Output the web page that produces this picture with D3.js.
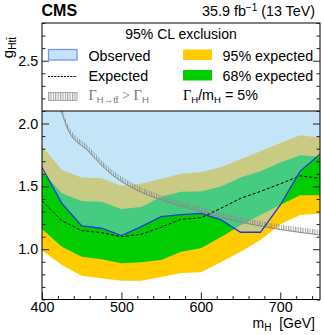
<!DOCTYPE html>
<html><head><meta charset="utf-8">
<script src="https://cdn.jsdelivr.net/npm/d3@7"></script>
<style>
html,body{margin:0;padding:0;background:#fff;}
text{font-family:"Liberation Sans",Arial,sans-serif;}
</style></head>
<body><svg id="c" width="324" height="335"></svg>
<script>
// ---- data ----
const mass = [400,425,450,475,500,525,550,575,600,625,650,675,700,725,750];
const observed = [1.65,1.365,1.185,1.167,1.108,1.18,1.26,1.275,1.285,1.235,1.135,1.135,1.352,1.622,1.756];
const expected = [1.386,1.227,1.148,1.132,1.10,1.119,1.175,1.238,1.25,1.325,1.405,1.46,1.52,1.584,1.563];
const band68Up = [1.616,1.445,1.383,1.378,1.32,1.335,1.418,1.457,1.46,1.50,1.57,1.62,1.69,1.748,1.735];
const band68Dn = [1.16,1.02,0.94,0.92,0.889,0.897,0.915,0.98,1.008,1.095,1.19,1.272,1.352,1.43,1.43];
const band95Up = [1.82,1.63,1.57,1.565,1.505,1.52,1.56,1.60,1.612,1.652,1.716,1.78,1.845,1.906,1.889];
const band95Dn = [0.99,0.875,0.788,0.77,0.75,0.75,0.78,0.81,0.817,0.897,0.98,1.074,1.198,1.272,1.285];
const widthMass = [415,424,433,457,486,515,557,600,641,683,750];
const widthG = [2.22,2.1,1.947,1.788,1.603,1.484,1.378,1.298,1.228,1.175,1.113];
const xTicks = [400,500,600,700];
const yTicks = [1.0,1.5,2.0,2.5];
const plotTop = 2.1;

const svg = d3.select("#c");
const L=42,R=320,T=23,B=299.5;
const x = d3.scaleLinear().domain([400,750]).range([L,R]);
const y = d3.scaleLinear().domain([0.6,2.8]).range([B,T]);

const C = {blue:"#c4e4f8", yellow:"#ffcc00", green:"#00cc00", olive:"#c9cb84", teal:"#46cc80", line:"#2233dd"};

const defs = svg.append("defs");
defs.append("clipPath").attr("id","plotclip").append("rect")
  .attr("x",L).attr("y",y(plotTop)).attr("width",R-L).attr("height",B-y(plotTop));
const obsArea = d3.area().x((d,i)=>x(mass[i])).y0(y(plotTop)).y1((d,i)=>y(observed[i]));
defs.append("clipPath").attr("id","obsclip").append("path").attr("d",obsArea(mass));
const pat = defs.append("pattern").attr("id","hatch").attr("patternUnits","userSpaceOnUse")
  .attr("width",2.4).attr("height",10);
pat.append("line").attr("x1",0.6).attr("x2",0.6).attr("y1",0).attr("y2",10)
  .attr("stroke","#8a8a8a").attr("stroke-width",0.9);

const band = (up,dn)=>d3.area().x((d,i)=>x(mass[i])).y0((d,i)=>y(dn[i])).y1((d,i)=>y(up[i]))(mass);

const g = svg.append("g").attr("clip-path","url(#plotclip)");
// plain bands
g.append("path").attr("d",band(band95Up,band95Dn)).attr("fill",C.yellow);
g.append("path").attr("d",band(band68Up,band68Dn)).attr("fill",C.green);
// overlap with observed exclusion
const go = g.append("g").attr("clip-path","url(#obsclip)");
go.append("rect").attr("x",L).attr("y",T).attr("width",R-L).attr("height",B-T).attr("fill",C.blue);
go.append("path").attr("d",band(band95Up,band95Dn)).attr("fill",C.olive);
go.append("path").attr("d",band(band68Up,band68Dn)).attr("fill",C.teal);

// width curve with hatching
const wArea = d3.area().curve(d3.curveMonotoneX)
  .x((d,i)=>x(widthMass[i])).y0((d,i)=>y(widthG[i])).y1((d,i)=>y(widthG[i])-5);
g.append("path").attr("d",wArea(widthMass)).attr("fill","url(#hatch)");
g.append("path").attr("d",d3.line().curve(d3.curveMonotoneX).x((d,i)=>x(widthMass[i])).y((d,i)=>y(widthG[i]))(widthMass))
  .attr("fill","none").attr("stroke","#888").attr("stroke-width",1);

// expected & observed lines
g.append("path").attr("d",d3.line().x((d,i)=>x(mass[i])).y((d,i)=>y(expected[i]))(mass))
  .attr("fill","none").attr("stroke","#000").attr("stroke-width",1).attr("stroke-dasharray","3,2");
g.append("path").attr("d",d3.line().x((d,i)=>x(mass[i])).y((d,i)=>y(observed[i]))(mass))
  .attr("fill","none").attr("stroke",C.line).attr("stroke-width",1.3);

// frame
svg.append("rect").attr("x",L).attr("y",T).attr("width",R-L).attr("height",B-T)
  .attr("fill","none").attr("stroke","#000").attr("stroke-width",1);
svg.append("line").attr("x1",L).attr("x2",R).attr("y1",y(plotTop)).attr("y2",y(plotTop))
  .attr("stroke","#000").attr("stroke-width",1.2);

// axes (ticks inward)
const xAx = svg.append("g").attr("transform",`translate(0,${B})`)
  .call(d3.axisTop(x).tickValues(d3.range(400,751,20)).tickSize(3.5).tickFormat(""));
xAx.select(".domain").remove();
xAx.selectAll(".tick line").filter(d=>xTicks.includes(d)).attr("y2",-7);
xAx.selectAll(".tick line").attr("stroke","#222");
const xl = svg.append("g").attr("transform",`translate(0,${B})`)
  .call(d3.axisBottom(x).tickValues(xTicks).tickSize(0).tickPadding(0).tickFormat(d3.format("d")));
xl.select(".domain").remove();
xl.selectAll("text").attr("font-size",14.3).attr("dy",0).attr("y",12.3).attr("fill","#000")
  .attr("font-family","Liberation Sans, Arial, sans-serif");

const yMinor = d3.range(6,29).map(v=>v/10);
const isMajor = d=>yTicks.some(t=>Math.abs(t-d)<1e-6);
[[L,d3.axisRight,1],[R,d3.axisLeft,-1]].forEach(([px,fn,s])=>{
  const a = svg.append("g").attr("transform",`translate(${px},0)`)
    .call(fn(y).tickValues(yMinor).tickSize(3.5).tickFormat(""));
  a.select(".domain").remove();
  a.selectAll(".tick line").attr("stroke","#222").filter(isMajor).attr("x2",7*s);
});
const yl = svg.append("g").attr("transform",`translate(${L},0)`)
  .call(d3.axisLeft(y).tickValues(yTicks).tickSize(0).tickPadding(3.8).tickFormat(d3.format(".1f")));
yl.select(".domain").remove();
yl.selectAll("text").attr("font-size",14.3).attr("fill","#000")
  .attr("font-family","Liberation Sans, Arial, sans-serif");

// axis titles
const yt = svg.append("text").attr("transform","translate(12.5,37) rotate(-90)")
  .attr("text-anchor","end").attr("font-size",15);
yt.append("tspan").text("g");
yt.append("tspan").attr("font-size",10).attr("dy",3).text("Htt\u0304");
const xt = svg.append("text").attr("x",315).attr("y",328).attr("text-anchor","end").attr("font-size",14);
xt.append("tspan").text("m");
xt.append("tspan").attr("font-size",10).attr("dy",3).text("H");
xt.append("tspan").attr("dy",-3).attr("xml:space","preserve").text("\u00a0\u00a0[GeV]");

// header
svg.append("text").attr("x",41.5).attr("y",16).attr("font-size",16).attr("font-weight","bold").text("CMS");
const hd = svg.append("text").attr("x",315).attr("y",16).attr("text-anchor","end").attr("font-size",14.3);
hd.append("tspan").text("35.9 fb");
hd.append("tspan").attr("font-size",10).attr("dy",-5).text("\u22121");
hd.append("tspan").attr("dy",5).text(" (13 TeV)");

// legend
svg.append("text").attr("x",181).attr("y",39).attr("text-anchor","middle").attr("font-size",14).text("95% CL exclusion");
svg.append("rect").attr("x",48.5).attr("y",49.5).attr("width",28.5).attr("height",10.5)
  .attr("fill",C.blue).attr("stroke","#7a95f0").attr("stroke-width",1.3);
svg.append("text").attr("x",88.5).attr("y",60.5).attr("font-size",14.3).text("Observed");
svg.append("line").attr("x1",48).attr("x2",77).attr("y1",76.5).attr("y2",76.5)
  .attr("stroke","#000").attr("stroke-width",1).attr("stroke-dasharray","2,1.2");
svg.append("text").attr("x",88.5).attr("y",81).attr("font-size",14.3).text("Expected");
svg.append("rect").attr("x",48.5).attr("y",92.5).attr("width",28.5).attr("height",8)
  .attr("fill","url(#hatch)").attr("stroke","#999").attr("stroke-width",0.8);
const gl = svg.append("text").attr("x",88.5).attr("y",100).attr("font-size",14.3).attr("fill","#777");
gl.append("tspan").attr("font-family","Liberation Serif, serif").text("\u0393");
gl.append("tspan").attr("font-size",9.5).attr("dy",3).text("H\u2192tt\u0304");
gl.append("tspan").attr("dy",-3).attr("font-family","Liberation Serif, serif").text(" > \u0393");
gl.append("tspan").attr("font-size",9.5).attr("dy",3).text("H");

svg.append("rect").attr("x",183).attr("y",49.5).attr("width",29).attr("height",10.5).attr("fill",C.yellow);
svg.append("text").attr("x",222.5).attr("y",60.5).attr("font-size",14.3).text("95% expected");
svg.append("rect").attr("x",183).attr("y",70).attr("width",29).attr("height",10.5).attr("fill",C.green);
svg.append("text").attr("x",222.5).attr("y",81).attr("font-size",14.3).text("68% expected");
const gm = svg.append("text").attr("x",183).attr("y",100).attr("font-size",14.3);
gm.append("tspan").attr("font-family","Liberation Serif, serif").text("\u0393");
gm.append("tspan").attr("font-size",9.5).attr("dy",3).text("H");
gm.append("tspan").attr("dy",-3).text("/m");
gm.append("tspan").attr("font-size",9.5).attr("dy",3).text("H");
gm.append("tspan").attr("dy",-3).text(" = 5%");
</script></body></html>
